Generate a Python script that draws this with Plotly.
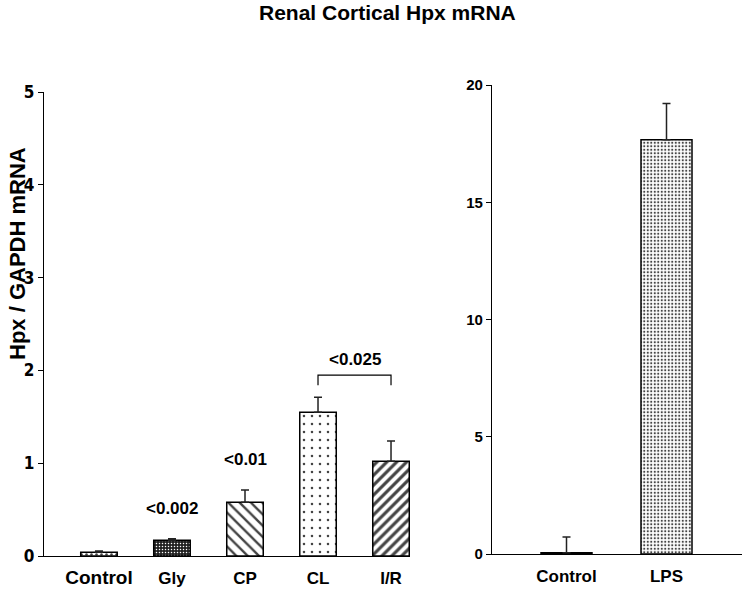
import plotly.graph_objects as go

# ---- data ----
left_categories = ["Control", "Gly", "CP", "CL", "I/R"]
left_values = [0.04, 0.17, 0.58, 1.55, 1.02]
left_errors = [0.015, 0.015, 0.13, 0.16, 0.22]
left_pvalues = ["", "<0.002", "<0.01", "", ""]
left_yticks = [0, 1, 2, 3, 4, 5]

right_categories = ["Control", "LPS"]
right_values = [0.05, 17.66]
right_errors = [0.67, 1.55]
right_pvalues = ["", "<0.001"]
right_yticks = [0, 5, 10, 15, 20]

bracket_pair = ["CL", "I/R"]
bracket_label = "<0.025"

title_text = "Renal Cortical Hpx mRNA"
ytitle_text = "Hpx / GAPDH mRNA"

# ---- styles / layout helpers ----
W, H = 742, 590


def fx(px):
    return px / W


def fy(py):
    return (H - py) / H


FONT = "Liberation Sans, Arial, sans-serif"
NARROW = "Liberation Sans Narrow, DejaVu Sans Condensed, Arial Narrow, sans-serif"

left_shapes = [".", ".", "\\", ".", "/"]
left_fg = ["#555555", "#bbbbbb", "#000000", "#444444", "#000000"]
left_bg = ["#ffffff", "#222222", "#ffffff", "#ffffff", "#ffffff"]
left_size = [5, 3, 8, 8, 7]
left_sol = [0.2, 0.2, 0.3, 0.08, 0.45]

right_shapes = [".", "."]
right_fg = ["#333333", "#777777"]
right_bg = ["#ffffff", "#ffffff"]
right_size = [4, 3.5]
right_sol = [0.3, 0.3]

left_idx = list(range(len(left_categories)))
right_idx = list(range(len(right_categories)))

fig = go.Figure()

fig.add_trace(go.Bar(
    x=left_idx, y=left_values, width=0.5,
    marker=dict(color=left_bg, line=dict(color="black", width=1.5),
                pattern=dict(shape=left_shapes, fgcolor=left_fg, bgcolor=left_bg,
                             size=left_size, solidity=left_sol, fillmode="overlay",
                             fgopacity=1)),
    error_y=dict(type="data", symmetric=False, array=left_errors,
                 arrayminus=[0] * len(left_errors), color="#222222",
                 thickness=1.5, width=4),
    xaxis="x", yaxis="y", showlegend=False, hoverinfo="skip"))

fig.add_trace(go.Bar(
    x=right_idx, y=right_values, width=0.51,
    marker=dict(color=right_bg, line=dict(color="black", width=1.5),
                pattern=dict(shape=right_shapes, fgcolor=right_fg, bgcolor=right_bg,
                             size=right_size, solidity=right_sol, fillmode="overlay",
                             fgopacity=1)),
    error_y=dict(type="data", symmetric=False, array=right_errors,
                 arrayminus=[0] * len(right_errors), color="#222222",
                 thickness=1.5, width=4),
    xaxis="x2", yaxis="y2", showlegend=False, hoverinfo="skip"))

left_ticktext = []
for c in left_categories:
    if c == "Control":
        left_ticktext.append("<span style='font-size:19px'>" + c + "</span>")
    else:
        left_ticktext.append(c)

axis_common = dict(showgrid=False, zeroline=False, showline=True,
                   linecolor="black", linewidth=1.3, automargin=False)

fig.update_layout(
    template="none",
    width=W, height=H, autosize=False,
    margin=dict(l=0, r=0, t=0, b=0, pad=0),
    paper_bgcolor="white", plot_bgcolor="white",
    font=dict(family=FONT, color="black"),
    xaxis=dict(domain=[fx(44), fx(410)], range=[-0.753, 4.26],
               tickvals=left_idx, ticktext=left_ticktext, ticks="",
               tickfont=dict(size=17, family=FONT, weight="bold"),
               ticklabelstandoff=6, anchor="y", **axis_common),
    yaxis=dict(domain=[fy(556), fy(92)], range=[0, 5],
               tickvals=left_yticks, ticks="outside", ticklen=5,
               tickcolor="black", tickwidth=1,
               tickfont=dict(size=17, family=NARROW, weight="bold"),
               anchor="x", **axis_common),
    xaxis2=dict(domain=[fx(492), 1.0], range=[-0.745, 1.755],
                tickvals=right_idx, ticktext=right_categories, ticks="",
                tickfont=dict(size=17, family=FONT, weight="bold"),
                ticklabelstandoff=6, anchor="y2", **axis_common),
    yaxis2=dict(domain=[fy(554), fy(85)], range=[0, 20],
                tickvals=right_yticks, ticks="outside", ticklen=5,
                tickcolor="black", tickwidth=1,
                tickfont=dict(size=15, family=FONT, weight="bold"),
                anchor="x2", **axis_common),
)

annotations = []
# title
annotations.append(dict(text="<b>" + title_text + "</b>", xref="paper", yref="paper",
                        x=fx(387), y=fy(12), showarrow=False,
                        xanchor="center", yanchor="middle",
                        font=dict(size=21, family=FONT, color="black")))
# y-axis title
annotations.append(dict(text="<b>" + ytitle_text + "</b>", xref="paper", yref="paper",
                        x=fx(17), y=fy(254), textangle=-90, showarrow=False,
                        xanchor="center", yanchor="middle",
                        font=dict(size=22, family=FONT, color="black")))
# p-values
for i, p in enumerate(left_pvalues):
    if p:
        top = left_values[i] + left_errors[i]
        annotations.append(dict(text="<b>" + p + "</b>", x=i, y=top + 0.33,
                                xref="x", yref="y", showarrow=False,
                                yanchor="middle", font=dict(size=17, family=FONT)))
for i, p in enumerate(right_pvalues):
    if p:
        top = right_values[i] + right_errors[i]
        annotations.append(dict(text="<b>" + p + "</b>", x=i, y=top + 1.4,
                                xref="x2", yref="y2", showarrow=False,
                                yanchor="middle", font=dict(size=17, family=FONT)))

# bracket
b0 = left_categories.index(bracket_pair[0])
b1 = left_categories.index(bracket_pair[1])
by = 1.95
bd = 0.11
shapes = [dict(type="path", xref="x", yref="y",
               path=f"M {b0} {by - bd} L {b0} {by} L {b1} {by} L {b1} {by - bd}",
               line=dict(color="black", width=1.2))]
annotations.append(dict(text="<b>" + bracket_label + "</b>", x=(b0 + b1) / 2, y=by + 0.17,
                        xref="x", yref="y", showarrow=False, yanchor="middle",
                        font=dict(size=17, family=FONT)))

fig.update_layout(annotations=annotations, shapes=shapes)

fig.write_html(
    "out.html",
    config={"displayModeBar": False},
    post_script="document.body.style.margin='0';document.body.style.padding='0';"
                "document.body.style.overflow='hidden';",
)
